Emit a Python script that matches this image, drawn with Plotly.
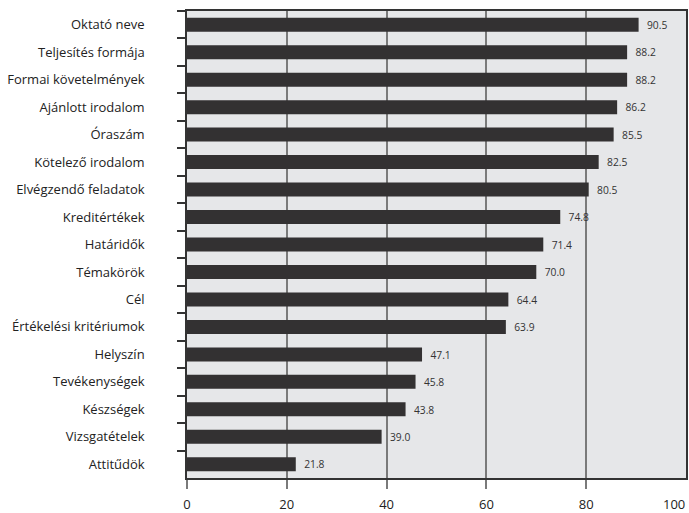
import plotly.graph_objects as go

categories = ["Oktató neve", "Teljesítés formája", "Formai követelmények", "Ajánlott irodalom",
              "Óraszám", "Kötelező irodalom", "Elvégzendő feladatok", "Kreditértékek",
              "Határidők", "Témakörök", "Cél", "Értékelési kritériumok", "Helyszín",
              "Tevékenységek", "Készségek", "Vizsgatételek", "Attitűdök"]
values = [90.5, 88.2, 88.2, 86.2, 85.5, 82.5, 80.5, 74.8, 71.4, 70.0, 64.4, 63.9,
          47.1, 45.8, 43.8, 39.0, 21.8]
x_ticks = [0, 20, 40, 60, 80, 100]

NB = "\u00a0"
fig = go.Figure(go.Bar(
    x=values, y=categories, orientation="h",
    marker=dict(color="#333132", line=dict(width=0)),
    text=[NB * 2 + f"{v:.1f}" for v in values], textposition="outside",
    textfont=dict(size=11, color="#333333"), cliponaxis=False,
    hoverinfo="skip",
))

fig.update_layout(
    width=689, height=513,
    margin=dict(l=187, r=3, t=11, b=35),
    paper_bgcolor="white", plot_bgcolor="#e6e7e9",
    font=dict(family="Open Sans", size=13, color="#222222"),
    bargap=0.49, showlegend=False,
)
fig.update_xaxes(
    range=[0, 100], tickvals=x_ticks[:-1], ticktext=[str(t) for t in x_ticks[:-1]],
    showgrid=True, gridcolor="#7a7a7a", gridwidth=1.5,
    ticks="outside", ticklen=9, tickcolor="#7a7a7a", tickwidth=1.5,
    showline=True, linecolor="#333333", linewidth=1.5, mirror=True,
    zeroline=False, tickfont=dict(size=13, color="#222222"),
    automargin=False, ticklabelstandoff=5,
)
fig.update_yaxes(
    autorange="reversed", tickson="boundaries", ticks="outside", ticklen=8,
    tickcolor="#333333", tickwidth=1.5,
    showline=True, linecolor="#333333", linewidth=1.5, mirror=True,
    showgrid=False, tickfont=dict(size=13, color="#222222"),
    automargin=False, ticklabelstandoff=38,
)
fig.add_annotation(
    x=x_ticks[-1], y=0, xref="x", yref="paper", text=str(x_ticks[-1]),
    showarrow=False, xanchor="right", yanchor="top", yshift=-15, xshift=1,
    font=dict(size=13, color="#222222"),
)

fig.write_html("out.html", config={"displayModeBar": False},
               post_script="document.body.style.margin='0';")
